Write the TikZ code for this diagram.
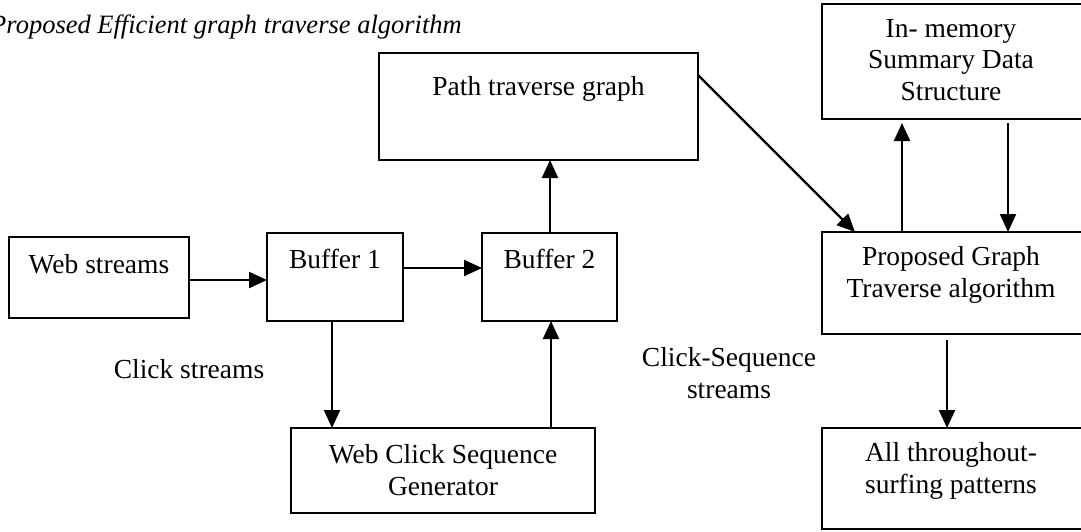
\documentclass[tikz,border=0pt]{standalone}
\usepackage{fontspec}
\setmainfont{Liberation Serif}
\usetikzlibrary{arrows.meta}
\tikzset{
  box/.style={draw=black, line width=2.2pt, anchor=north west, inner sep=0pt, outer sep=0pt},
  txt/.style={anchor=base, align=center, inner sep=0pt, font=\fontsize{27.5pt}{31.5pt}\selectfont},
  conn/.style={line width=2.2pt, -{Triangle[length=18pt,width=16pt]}}
}
\begin{document}
\begin{tikzpicture}[x=1pt,y=-1pt]
\useasboundingbox (0,0) rectangle (1081,531);
% boxes
\node[box, minimum width=180pt, minimum height=81pt] (web) at (9,237) {};
\node[box, minimum width=136pt, minimum height=88pt] (buf1) at (267,233) {};
\node[box, minimum width=135pt, minimum height=88pt] (buf2) at (482,233) {};
\node[box, minimum width=319pt, minimum height=107pt] (path) at (379,53) {};
\node[box, minimum width=262pt, minimum height=115pt] (mem) at (822,4) {};
\node[box, minimum width=262pt, minimum height=102pt] (prop) at (822,232) {};
\node[box, minimum width=262pt, minimum height=101pt] (all) at (822,428) {};
\node[box, minimum width=304pt, minimum height=85pt] (gen) at (291,428) {};
% texts (base = baseline of last line)
\node[txt] (tweb) at (99,273) {Web streams};
\node[txt] (tbuf1) at (335,268) {Buffer 1};
\node[txt] (tbuf2) at (549.5,268) {Buffer 2};
\node[txt] (tpath) at (538.5,95) {Path traverse graph};
\node[txt] (tmem) at (951,100) {In- memory\\Summary Data\\Structure};
\node[txt] (tprop) at (951,297) {Proposed Graph\\Traverse algorithm};
\node[txt] (tall) at (951,493) {All throughout-\\surfing patterns};
\node[txt] (tgen) at (443,495) {Web Click Sequence\\Generator};
\node[txt] (lclick) at (189,378) {Click streams};
\node[txt] (lseq) at (729,398) {Click-Sequence\\streams};
\node[txt, anchor=base east, font=\fontsize{26.5pt}{31.5pt}\selectfont\itshape] (cap) at (462,33) {Proposed Efficient graph traverse algorithm};
% connectors
\draw[conn] (web.east |- 0,280) -- (buf1.west |- 0,280);
\draw[conn] (buf1.east |- 0,268) -- (buf2.west |- 0,268);
\draw[conn] (buf2.north -| 550,0) -- (path.south -| 550,0);
\draw[conn] (buf1.south -| 332,0) -- (gen.north -| 332,0);
\draw[conn] (gen.north -| 551,0) -- (buf2.south -| 551,0);
\draw[conn] (path.east |- 0,75) -- (prop.north -| 855,0);
\draw[conn] (prop.north -| 902,0) -- ([yshift=-4pt]mem.south -| 902,0);
\draw[conn] ([yshift=-4pt]mem.south -| 1008,0) -- (prop.north -| 1008,0);
\draw[conn] ([yshift=-6pt]prop.south -| 947,0) -- (all.north -| 947,0);
\end{tikzpicture}
\end{document}
